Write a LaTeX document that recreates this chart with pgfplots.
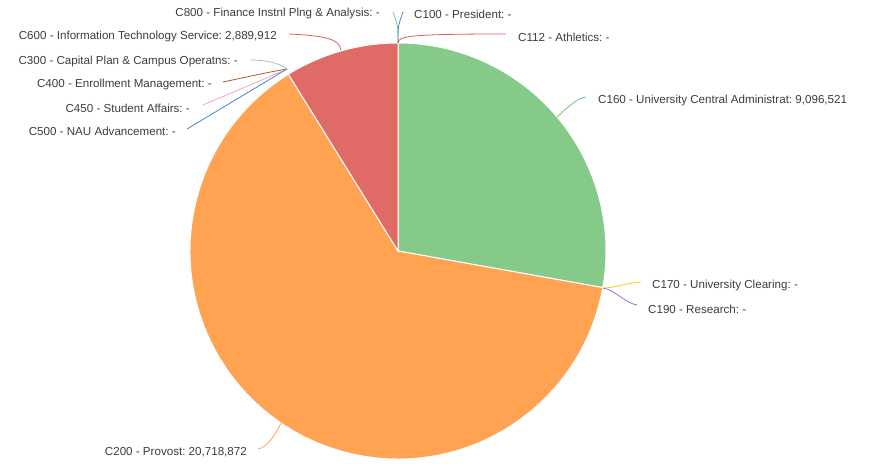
\documentclass[border=0pt]{standalone}
\usepackage{pgfplots}
\pgfplotsset{compat=1.18}
\usepackage{pgfplotstable}
\usepackage{fontspec}
\setmainfont{Liberation Sans}
\frenchspacing

\definecolor{txt}{RGB}{60,60,60}
\definecolor{pieGreen}{RGB}{133,202,137}
\definecolor{pieOrange}{RGB}{255,163,82}
\definecolor{pieRed}{RGB}{224,106,101}
\definecolor{lnBlue}{RGB}{74,134,206}
\definecolor{lnRed}{RGB}{224,90,90}
\definecolor{lnGreen}{RGB}{120,195,125}
\definecolor{lnYellow}{RGB}{250,210,0}
\definecolor{lnPurple}{RGB}{160,110,210}
\definecolor{lnGray}{RGB}{185,185,185}
\definecolor{lnBrown}{RGB}{165,95,40}
\definecolor{lnPink}{RGB}{250,160,200}

% budget by department, clockwise from 12 o'clock
\pgfplotstableread{
name value
C100 0
C112 0
C160 9096521
C170 0
C190 0
C200 20718872
C300 0
C400 0
C450 0
C500 0
C600 2889912
C800 0
}\piedata

\pgfplotstablegetelem{2}{value}\of\piedata \edef\vA{\pgfplotsretval}
\pgfplotstablegetelem{5}{value}\of\piedata \edef\vB{\pgfplotsretval}
\pgfplotstablegetelem{10}{value}\of\piedata \edef\vC{\pgfplotsretval}
\edef\total{\fpeval{\vA+\vB+\vC}}
\edef\aOne{\fpeval{90-360*\vA/\total}}
\edef\aTwo{\fpeval{\aOne-360*\vB/\total}}
\def\rad{208pt}

\begin{document}
\begin{tikzpicture}[lbl/.style={text=txt,font=\fontsize{11.6}{13}\selectfont,inner sep=0pt}]
\begin{axis}[
    width=872pt, height=463pt, scale only axis,
    xmin=0, xmax=872, ymin=0, ymax=463,
    y dir=reverse,
    hide axis, clip=false,
]
% sectors
\fill[pieGreen,draw=white,line width=1pt] (axis cs:398,251) -- ++(90:\rad)
    arc[start angle=90,end angle=\aOne,radius=\rad] -- cycle;
\fill[pieOrange,draw=white,line width=1pt] (axis cs:398,251) -- ++(\aOne:\rad)
    arc[start angle=\aOne,end angle=\aTwo,radius=\rad] -- cycle;
\fill[pieRed,draw=white,line width=1pt] (axis cs:398,251) -- ++(\aTwo:\rad)
    arc[start angle=\aTwo,end angle=-270,radius=\rad] -- cycle;

% leader lines
\draw[lnGreen,line width=0.8pt] (axis cs:398,43) .. controls (axis cs:398,26) .. (axis cs:393,12);
\draw[lnBlue,line width=0.8pt] (axis cs:398,43) .. controls (axis cs:398,26) .. (axis cs:403,12);
\draw[lnRed,line width=0.8pt] (axis cs:398,43) .. controls (axis cs:398,36) and (axis cs:410,34) .. (axis cs:506,34);
\draw[lnGreen,line width=0.8pt] (axis cs:557,117) .. controls (axis cs:570,105) and (axis cs:578,98) .. (axis cs:586,97);
\draw[lnYellow,line width=0.8pt] (axis cs:603,288) .. controls (axis cs:615,288) and (axis cs:625,283) .. (axis cs:641,282);
\draw[lnPurple,line width=0.8pt] (axis cs:603,288) .. controls (axis cs:615,290) and (axis cs:625,303) .. (axis cs:637,305);
\draw[pieOrange,line width=0.8pt] (axis cs:281,423) .. controls (axis cs:275,435) and (axis cs:268,447) .. (axis cs:258,449);
\draw[lnRed,line width=0.8pt] (axis cs:341,50) .. controls (axis cs:339,40) and (axis cs:330,36) .. (axis cs:289,34);
\draw[lnGray,line width=0.8pt] (axis cs:287,69) .. controls (axis cs:280,63) and (axis cs:265,60) .. (axis cs:250,60);
\draw[lnBrown,line width=0.8pt] (axis cs:287,69) .. controls (axis cs:270,72) .. (axis cs:223,82);
\draw[lnPink,line width=0.8pt] (axis cs:287,69) .. controls (axis cs:262,80) .. (axis cs:203,105);
\draw[lnBlue,line width=0.8pt] (axis cs:287,69) .. controls (axis cs:262,84) .. (axis cs:187,129);

% labels
\node[lbl,anchor=east] at (axis cs:380,14) {C800 - Finance Instnl Plng \& Analysis: -};
\node[lbl,anchor=west] at (axis cs:414,14) {C100 - President: -};
\node[lbl,anchor=west] at (axis cs:518,37) {C112 - Athletics: -};
\node[lbl,anchor=west] at (axis cs:598,100) {C160 - University Central Administrat: 9,096,521};
\node[lbl,anchor=west] at (axis cs:652,285) {C170 - University Clearing: -};
\node[lbl,anchor=west] at (axis cs:648,309) {C190 - Research: -};
\node[lbl,anchor=east] at (axis cs:247,452) {C200 - Provost: 20,718,872};
\node[lbl,anchor=east] at (axis cs:277,37) {C600 - Information Technology Service: 2,889,912};
\node[lbl,anchor=east] at (axis cs:238,61) {C300 - Capital Plan \& Campus Operatns: -};
\node[lbl,anchor=east] at (axis cs:212,84) {C400 - Enrollment Management: -};
\node[lbl,anchor=east] at (axis cs:190,108) {C450 - Student Affairs: -};
\node[lbl,anchor=east] at (axis cs:176,131) {C500 - NAU Advancement: -};
\end{axis}
\pgfresetboundingbox
\useasboundingbox (current axis.south west) rectangle (current axis.north east);
\end{tikzpicture}
\end{document}
